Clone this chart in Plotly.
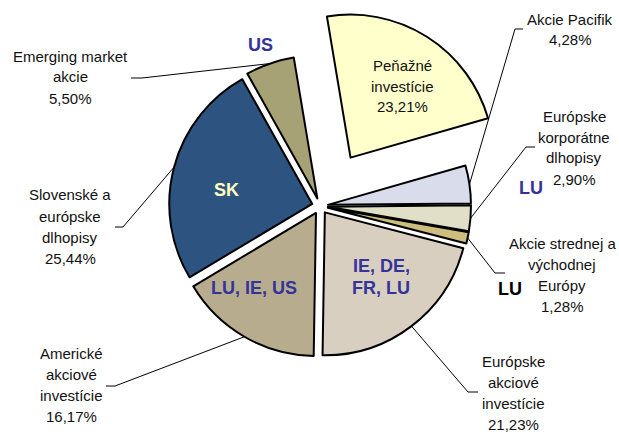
import math
import plotly.graph_objects as go

# Štruktúra portfólia - podiely jednotlivých typov aktív
nazvy = ["Peňažné investície", "Akcie Pacifik", "Európske korporátne dlhopisy",
         "Akcie strednej a východnej Európy", "Európske akciové investície",
         "Americké akciové investície", "Slovenské a európske dlhopisy",
         "Emerging market akcie"]
riadky = [["Peňažné", "investície"], ["Akcie Pacifik"], ["Európske", "korporátne", "dlhopisy"],
          ["Akcie strednej a", "východnej", "Európy"], ["Európske", "akciové", "investície"],
          ["Americké", "akciové", "investície"], ["Slovenské a", "európske", "dlhopisy"],
          ["Emerging market", "akcie"]]
podiely = [23.21, 4.28, 2.90, 1.28, 21.23, 16.17, 25.44, 5.50]
farby = ["#FFFFCC", "#D9DCEA", "#E2DFC9", "#CDBE7E", "#D8CFC0", "#B7AD8E", "#2D5481", "#A7A276"]
vysunutie = [0.4, 0.056, 0.056, 0.056, 0.056, 0.056, 0.056, 0.056]

# krajiny (domicil fondov)
krajiny = ["US", "SK", "LU, IE, US", "IE, DE,", "FR, LU", "LU", "LU"]

W, H = 619, 432
CX, CY, R = 320, 206, 143
ROT = -9.5
pol = R * (1 + max(vysunutie))


def px(x):
    return x / W


def py(y):
    return 1 - y / H


fig = go.Figure()
fig.add_trace(go.Pie(
    labels=nazvy, values=podiely, sort=False, direction="clockwise", rotation=ROT,
    pull=vysunutie, textinfo="none", hoverinfo="label+percent", showlegend=False,
    marker=dict(colors=farby, line=dict(color="black", width=2)),
    domain=dict(x=[px(CX - pol), px(CX + pol)], y=[py(CY + pol), py(CY - pol)])
))

# umiestnenie popisov: stred textu x, y prveho riadku, koniec vodiacej ciary (x, y, smer)
popis_pos = [
    (402, 65, None),
    (570, 19, (523, 29, -8)),
    (574, 116, (535, 147, -9)),
    (562, 243, (505, 273, -10)),
    (513, 361, (478, 392, -10)),
    (71, 353, (106, 386, 9)),
    (70, 195, (115, 227, 8)),
    (70, 56, (131, 78, 11)),
]

font = dict(family="Liberation Sans, Arial", size=15, color="#111111")
spolu = sum(podiely)
kum = 0
for i, v in enumerate(podiely):
    mid = math.radians(ROT + 360 * (kum + v / 2) / spolu)
    kum += v
    cx, y0, ciara = popis_pos[i]
    texty = riadky[i] + [f"{v:.2f}".replace(".", ",") + "%"]
    for j, t in enumerate(texty):
        fig.add_annotation(x=px(cx), y=py(y0 + j * 21), xref="paper", yref="paper",
                           xanchor="center", yanchor="middle",
                           text=t, showarrow=False, font=font)
    if ciara:
        hx, hy, d = ciara
        tx = CX + (1 + vysunutie[i]) * R * math.sin(mid)
        ty = CY - (1 + vysunutie[i]) * R * math.cos(mid)
        fig.add_shape(type="path", xref="paper", yref="paper",
                      path=f"M {px(hx)},{py(hy)} L {px(hx + d)},{py(hy)} L {px(tx)},{py(ty)}",
                      line=dict(color="black", width=1))

kraj_pos = [(260, 45, "#333399"), (226, 190, "#FFFFC0"), (254, 288, "#333399"),
            (381, 266, "#333399"), (381, 288, "#333399"), (531, 188, "#333399"),
            (510, 289, "black")]
for k, (x, y, c) in zip(krajiny, kraj_pos):
    fig.add_annotation(x=px(x), y=py(y), xref="paper", yref="paper", text=f"<b>{k}</b>",
                       xanchor="center", yanchor="middle", showarrow=False,
                       font=dict(family="Liberation Sans, Arial", size=18, color=c))

fig.update_layout(width=W, height=H, margin=dict(l=0, r=0, t=0, b=0),
                  paper_bgcolor="white", plot_bgcolor="white")

fig.write_html("out.html", config={"displayModeBar": False},
               post_script="document.body.style.margin = '0';")
